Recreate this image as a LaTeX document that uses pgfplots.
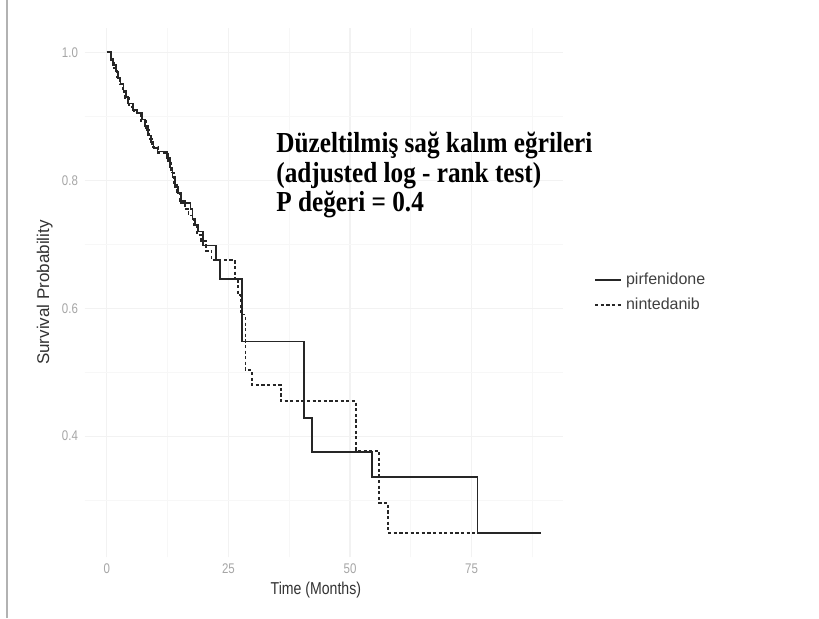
\documentclass[border=0pt]{standalone}
\usepackage{pgfplots}
\pgfplotsset{compat=1.18}
\usepackage{pgfplotstable}
\usepackage{fontspec}
\setmainfont{Liberation Sans}
\newfontfamily\titlefont[FakeStretch=0.87]{Liberation Serif}
\newfontfamily\narrowsans[FakeStretch=0.82]{Liberation Sans}

\pgfplotstableread{
t s
0 1.000
0.8 0.990
1.3 0.980
1.8 0.970
2.3 0.960
2.8 0.950
3.4 0.940
3.9 0.930
4.4 0.920
5.3 0.910
6.2 0.905
7.3 0.895
7.9 0.885
8.5 0.870
9.0 0.860
9.6 0.850
10.4 0.845
12.4 0.835
13.0 0.820
13.5 0.805
14.0 0.790
14.6 0.780
15.3 0.765
17.2 0.755
17.6 0.740
18.1 0.730
18.8 0.720
19.7 0.698
22.5 0.675
23.2 0.645
27.8 0.548
40.5 0.428
42.1 0.375
54.6 0.336
76.2 0.249
89.3 0.249
}\pirf

\pgfplotstableread{
t s
0 1.000
0.9 0.988
1.5 0.975
2.1 0.962
2.7 0.950
3.2 0.938
3.8 0.928
4.6 0.915
5.6 0.905
7.0 0.893
8.0 0.878
8.7 0.865
9.3 0.852
10.5 0.842
12.6 0.830
13.2 0.812
13.8 0.795
14.4 0.780
15.0 0.768
16.0 0.755
16.8 0.745
17.8 0.730
18.6 0.715
19.4 0.705
20.4 0.690
21.5 0.675
26.3 0.645
27.0 0.620
27.6 0.590
28.5 0.503
29.8 0.480
35.8 0.455
51.2 0.377
56.0 0.295
57.8 0.249
76.0 0.249
}\nint

\begin{document}
\begin{tikzpicture}
\path[use as bounding box, fill=white] (0,0) rectangle (409.5pt,309pt);
\draw[gray!60, line width=1.2pt] (3.5pt,0) -- (3.5pt,309pt);
\begin{axis}[
  at={(42.5pt,30.5pt)}, anchor=south west,
  width=239pt, height=264.5pt, scale only axis,
  xmin=-4.5, xmax=93.8, ymin=0.211, ymax=1.038,
  axis line style={draw=none},
  tick style={draw=none},
  xtick={0,25,50,75},
  ytick={0.4,0.6,0.8,1.0},
  minor xtick={12.5,37.5,62.5,87.5},
  minor ytick={0.3,0.5,0.7,0.9},
  grid=both,
  major grid style={gray!10, line width=0.6pt},
  minor grid style={gray!6, line width=0.4pt},
  yticklabel style={/pgf/number format/fixed, /pgf/number format/fixed zerofill, /pgf/number format/precision=1},
  /pgf/number format/assume math mode=true,
  tick label style={font=\narrowsans\fontsize{7}{8}\selectfont, text=gray!70},
  xlabel={Time (Months)},
  ylabel={Survival Probability},
  xlabel style={at={(axis description cs:0.483,-0.062)}, anchor=center, font=\narrowsans\fontsize{8.6}{10}\selectfont, text=black!80},
  ylabel style={at={(axis description cs:-0.084,0.5)}, anchor=center, font=\fontsize{8.5}{10}\selectfont, text=black!80},
  legend style={draw=none, fill=none, at={(axis description cs:1.052,0.5)}, anchor=west,
    font=\fontsize{8}{9}\selectfont, text=black!75, row sep=1.5pt},
  legend cell align=left,
  legend image code/.code={\draw[#1] (0pt,0pt) -- (8.5pt,0pt); \path (0pt,0pt) -- (13pt,0pt);},
]
\addplot[const plot, black!85, line width=0.9pt] table[x=t, y=s] {\pirf};
\addlegendentry{pirfenidone}
\addplot[const plot, black!85, line width=0.9pt, dash pattern=on 1.6pt off 1.2pt] table[x=t, y=s] {\nint};
\addlegendentry{nintedanib}
\end{axis}
\node[anchor=base west, font=\titlefont\bfseries\fontsize{14.5}{15}\selectfont, inner sep=0pt] at (138pt,232.75pt) {Düzeltilmiş sağ kalım eğrileri};
\node[anchor=base west, font=\titlefont\bfseries\fontsize{14.5}{15}\selectfont, inner sep=0pt] at (138pt,218pt) {(adjusted log - rank test)};
\node[anchor=base west, font=\titlefont\bfseries\fontsize{14.5}{15}\selectfont, inner sep=0pt] at (138pt,203.25pt) {P değeri = 0.4};
\end{tikzpicture}
\end{document}
